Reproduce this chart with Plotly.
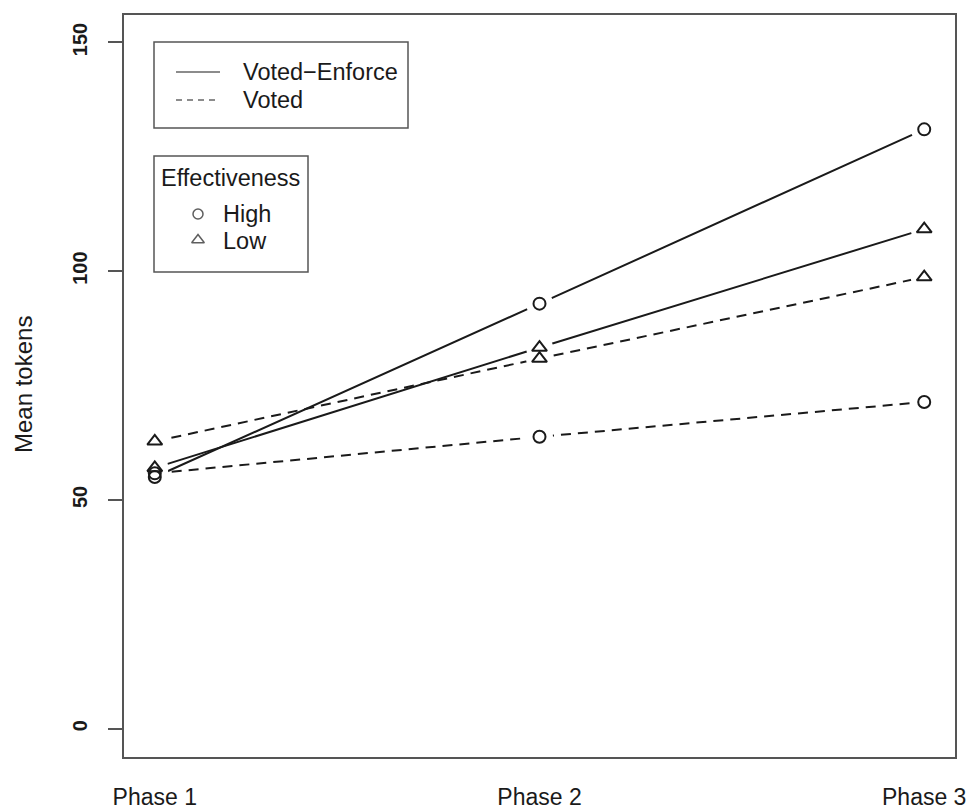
import plotly.graph_objects as go

phases = ["Phase 1", "Phase 2", "Phase 3"]
x_pos = [1, 2, 3]

ve_high = [55.0, 92.9, 131.0]
ve_low = [57.0, 83.3, 109.2]
voted_high = [55.8, 63.8, 71.4]
voted_low = [62.8, 80.9, 98.7]

y_ticks = [0, 50, 100, 150]

series = [
    ("Voted-Enforce High", ve_high, "solid", "circle-open", 12),
    ("Voted-Enforce Low", ve_low, "solid", "triangle-up-open", 13),
    ("Voted High", voted_high, "10px,7px", "circle-open", 12),
    ("Voted Low", voted_low, "10px,7px", "triangle-up-open", 13),
]

INK = "#1a1a1a"
BOXC = "#555555"

fig = go.Figure()

# lines
for name, vals, dash, sym, sz in series:
    fig.add_trace(go.Scatter(x=x_pos, y=vals, mode="lines",
                             line=dict(color=INK, width=2, dash=dash),
                             showlegend=False, hoverinfo="skip"))
# white gaps around points (type="b" look)
for name, vals, dash, sym, sz in series:
    fig.add_trace(go.Scatter(x=x_pos, y=vals, mode="markers",
                             marker=dict(symbol="circle", size=27, color="white", opacity=1,
                                         line=dict(width=0, color="white")),
                             showlegend=False, hoverinfo="skip"))
# markers
for name, vals, dash, sym, sz in series:
    fig.add_trace(go.Scatter(x=x_pos, y=vals, mode="markers", name=name,
                             marker=dict(symbol=sym, size=sz, color=INK, line=dict(width=2, color=INK)),
                             showlegend=False))

# legend overlay axis in pixel units
L, R, T, B = 124, 955, 15, 757
fig.add_trace(go.Scatter(x=[198, 198], y=[214, 240], mode="markers", xaxis="x2", yaxis="y2",
                         marker=dict(symbol=["circle-open", "triangle-up-open"], size=[10, 11],
                                     color=INK, line=dict(width=1.5, color=INK)),
                         showlegend=False, hoverinfo="skip"))

shapes = [
    dict(type="rect", xref="x2", yref="y2", x0=154, x1=408, y0=42, y1=128,
         line=dict(color=BOXC, width=1.5), layer="above"),
    dict(type="line", xref="x2", yref="y2", x0=176, x1=220, y0=72, y1=72,
         line=dict(color=INK, width=1.2), layer="above"),
    dict(type="line", xref="x2", yref="y2", x0=176, x1=220, y0=100, y1=100,
         line=dict(color=INK, width=1.2, dash="6px,5px"), layer="above"),
    dict(type="rect", xref="x2", yref="y2", x0=154, x1=308, y0=156, y1=272,
         line=dict(color=BOXC, width=1.5), layer="above"),
]

FONT = "Liberation Sans, Arial, sans-serif"
NARROW = "Liberation Sans Narrow, Arial Narrow, Liberation Sans, sans-serif"
LF = 23.5
annotations = [
    dict(text="Voted\u2212Enforce", x=241, y=72, xref="x2", yref="y2", xanchor="left", yanchor="middle",
         showarrow=False, font=dict(size=LF, color=INK, family=FONT)),
    dict(text="Voted", x=241, y=100, xref="x2", yref="y2", xanchor="left", yanchor="middle",
         showarrow=False, font=dict(size=LF, color=INK, family=FONT)),
    dict(text="Effectiveness", x=159, y=178, xref="x2", yref="y2", xanchor="left", yanchor="middle",
         showarrow=False, font=dict(size=LF, color=INK, family=FONT)),
    dict(text="High", x=221, y=214, xref="x2", yref="y2", xanchor="left", yanchor="middle",
         showarrow=False, font=dict(size=LF, color=INK, family=FONT)),
    dict(text="Low", x=221, y=241, xref="x2", yref="y2", xanchor="left", yanchor="middle",
         showarrow=False, font=dict(size=LF, color=INK, family=FONT)),
    dict(text="Mean tokens", x=(23 - L) / (R - L), y=(B - 385) / (B - T), xref="paper", yref="paper",
         xanchor="center", yanchor="middle", textangle=-90, showarrow=False,
         font=dict(size=24, color=INK, family=FONT)),
]

fig.update_layout(
    width=969, height=812,
    margin=dict(l=L, r=969 - R, t=T, b=812 - B, pad=0, autoexpand=False),
    paper_bgcolor="white", plot_bgcolor="white",
    showlegend=False,
    shapes=shapes, annotations=annotations,
    xaxis=dict(range=[0.92, 3.08], tickvals=x_pos, ticktext=phases, ticks="",
               showgrid=False, zeroline=False, showline=True, mirror=True, automargin=False,
               linecolor=BOXC, linewidth=1.5, ticklabelstandoff=19,
               tickfont=dict(size=23, color=INK, family=FONT)),
    yaxis=dict(range=[-6.2, 156], tickvals=y_ticks, ticktext=[str(v) for v in y_ticks],
               ticks="outside", ticklen=14, tickwidth=1.5, tickcolor=BOXC, tickangle=-90,
               showgrid=False, zeroline=False, showline=True, mirror=True, automargin=False,
               linecolor=BOXC, linewidth=1.5, ticklabelstandoff=13,
               tickfont=dict(size=20, color=INK, family=NARROW, weight="bold")),
    xaxis2=dict(overlaying="x", range=[L, R], visible=False, fixedrange=True),
    yaxis2=dict(overlaying="y", range=[B, T], visible=False, fixedrange=True),
)

fig.write_html("out.html")
